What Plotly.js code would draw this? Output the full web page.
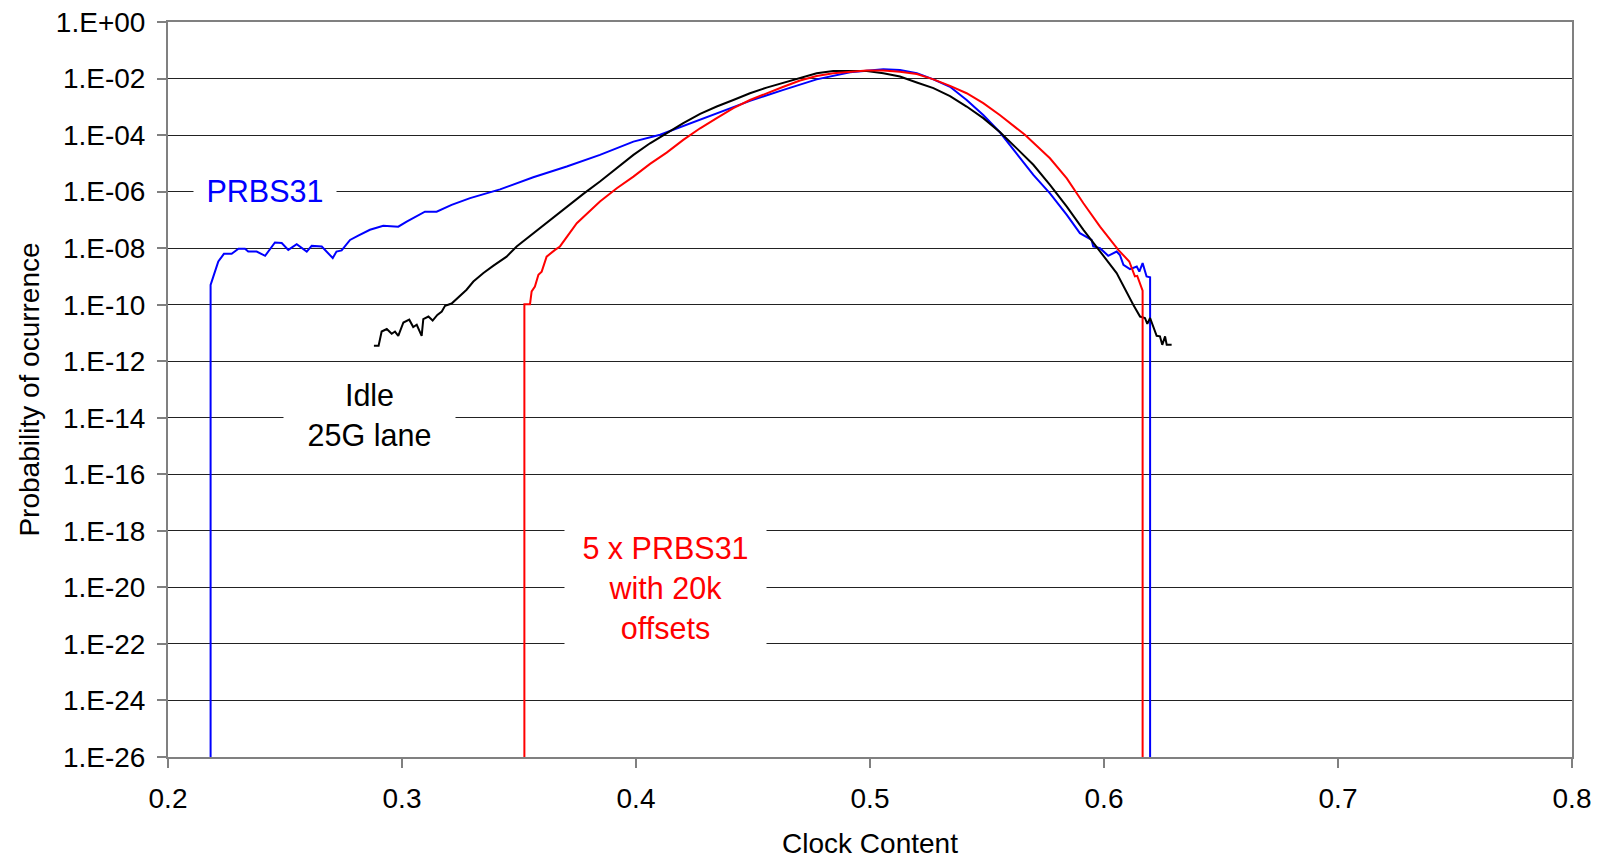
<!DOCTYPE html>
<html>
<head>
<meta charset="utf-8">
<script src="https://cdn.plot.ly/plotly-3.0.1.min.js"></script>
<style>html,body{margin:0;padding:0;background:#fff;}#chart{width:1604px;height:859px;}</style>
</head>
<body>
<div id="chart"></div>
<script>
// Clock content (x) and log10 of probability of occurrence (y)
const prbsX = [0.2182, 0.2182, 0.2194, 0.2215, 0.2239, 0.2272, 0.2301, 0.2329, 0.2343, 0.2379, 0.2415, 0.2457, 0.2486, 0.2514, 0.2550, 0.2593, 0.2614, 0.2657, 0.2704, 0.2720, 0.2742, 0.2778, 0.2813, 0.2863, 0.2920, 0.2984, 0.3020, 0.3098, 0.3148, 0.3212, 0.3291, 0.3419, 0.3561, 0.3704, 0.3846, 0.3989, 0.4103, 0.4202, 0.4345, 0.4487, 0.4630, 0.4772, 0.4915, 0.4986, 0.5057, 0.5128, 0.5200, 0.5271, 0.5342, 0.5413, 0.5484, 0.5556, 0.5627, 0.5698, 0.5769, 0.5841, 0.5897, 0.5947, 0.5954, 0.5983, 0.6018, 0.6054, 0.6068, 0.6083, 0.6111, 0.6140, 0.6151, 0.6165, 0.6182, 0.6197, 0.6197];
const prbsLog = [-26, -9.30, -9.0, -8.47, -8.2, -8.2, -8.02, -8.02, -8.12, -8.12, -8.27, -7.80, -7.82, -8.06, -7.86, -8.12, -7.92, -7.94, -8.35, -8.12, -8.08, -7.71, -7.56, -7.35, -7.21, -7.24, -7.06, -6.71, -6.71, -6.47, -6.23, -5.92, -5.49, -5.11, -4.70, -4.23, -3.99, -3.68, -3.25, -2.79, -2.40, -2.03, -1.78, -1.72, -1.67, -1.70, -1.81, -2.03, -2.29, -2.76, -3.29, -3.91, -4.64, -5.41, -6.06, -6.82, -7.47, -7.71, -7.94, -8.0, -8.27, -8.12, -8.24, -8.59, -8.74, -8.65, -8.83, -8.53, -9.0, -9.03, -26];

const idleX = [0.2880, 0.2900, 0.2913, 0.2935, 0.2956, 0.2970, 0.2984, 0.3006, 0.3031, 0.3048, 0.3063, 0.3084, 0.3091, 0.3113, 0.3131, 0.3151, 0.3170, 0.3184, 0.3212, 0.3276, 0.3305, 0.3348, 0.3391, 0.3447, 0.3490, 0.3561, 0.3632, 0.3704, 0.3775, 0.3846, 0.3918, 0.3989, 0.4060, 0.4131, 0.4202, 0.4274, 0.4345, 0.4416, 0.4487, 0.4558, 0.4630, 0.4701, 0.4772, 0.4843, 0.4915, 0.4986, 0.5057, 0.5128, 0.5200, 0.5271, 0.5342, 0.5413, 0.5484, 0.5556, 0.5627, 0.5698, 0.5769, 0.5841, 0.5912, 0.5983, 0.6054, 0.6125, 0.6154, 0.6175, 0.6185, 0.6197, 0.6211, 0.6225, 0.6239, 0.6249, 0.6261, 0.6268, 0.6289];
const idleLog = [-11.45, -11.45, -10.95, -10.86, -11.03, -10.95, -11.10, -10.63, -10.53, -10.79, -10.71, -11.10, -10.51, -10.42, -10.56, -10.36, -10.24, -10.04, -9.96, -9.47, -9.18, -8.88, -8.62, -8.30, -7.94, -7.47, -7.0, -6.53, -6.08, -5.64, -5.17, -4.70, -4.29, -3.93, -3.58, -3.25, -2.99, -2.76, -2.52, -2.32, -2.14, -1.96, -1.81, -1.73, -1.72, -1.73, -1.81, -1.93, -2.14, -2.34, -2.62, -2.99, -3.40, -3.90, -4.47, -5.05, -5.76, -6.53, -7.35, -8.12, -8.88, -10.0, -10.42, -10.47, -10.68, -10.47, -10.77, -11.10, -11.12, -11.42, -11.12, -11.42, -11.42];

const offsetX = [0.3523, 0.3523, 0.3547, 0.3554, 0.3568, 0.3583, 0.3597, 0.3618, 0.3654, 0.3675, 0.3747, 0.3846, 0.3918, 0.3989, 0.4060, 0.4131, 0.4202, 0.4274, 0.4345, 0.4416, 0.4487, 0.4558, 0.4630, 0.4701, 0.4772, 0.4843, 0.4915, 0.4986, 0.5057, 0.5128, 0.5200, 0.5271, 0.5342, 0.5413, 0.5484, 0.5556, 0.5662, 0.5769, 0.5841, 0.5912, 0.5983, 0.6061, 0.6108, 0.6118, 0.6132, 0.6142, 0.6165, 0.6165];
const offsetLog = [-26, -9.98, -9.98, -9.53, -9.36, -8.94, -8.83, -8.30, -8.06, -7.94, -7.12, -6.35, -5.88, -5.47, -5.02, -4.62, -4.17, -3.76, -3.40, -3.05, -2.76, -2.52, -2.29, -2.07, -1.91, -1.81, -1.76, -1.72, -1.72, -1.76, -1.84, -2.03, -2.26, -2.52, -2.87, -3.30, -3.99, -4.82, -5.53, -6.41, -7.24, -8.06, -8.47, -8.71, -9.0, -8.98, -9.50, -26];

const xTickVals = [0.2, 0.3, 0.4, 0.5, 0.6, 0.7, 0.8];
const xTickText = ['0.2', '0.3', '0.4', '0.5', '0.6', '0.7', '0.8'];
const yTickExp = [0, -2, -4, -6, -8, -10, -12, -14, -16, -18, -20, -22, -24, -26];
const yTickText = ['1.E+00', '1.E-02', '1.E-04', '1.E-06', '1.E-08', '1.E-10', '1.E-12', '1.E-14', '1.E-16', '1.E-18', '1.E-20', '1.E-22', '1.E-24', '1.E-26'];

const toProb = a => a.map(v => Math.pow(10, v));
const FONT = 'Liberation Sans, Arial, Helvetica, sans-serif';

const traces = [
  {x: prbsX, y: toProb(prbsLog), mode: 'lines', name: 'PRBS31', line: {color: '#0000FF', width: 2}},
  {x: idleX, y: toProb(idleLog), mode: 'lines', name: 'Idle 25G lane', line: {color: '#000000', width: 2}},
  {x: offsetX, y: toProb(offsetLog), mode: 'lines', name: '5 x PRBS31 with 20k offsets', line: {color: '#FF0000', width: 2}}
];

const layout = {
  width: 1604, height: 859,
  margin: {l: 168, r: 32, t: 22, b: 102},
  paper_bgcolor: '#fff', plot_bgcolor: '#fff',
  showlegend: false,
  font: {family: FONT, color: '#000', size: 28},
  xaxis: {
    range: [0.2, 0.8], tickmode: 'array', tickvals: xTickVals, ticktext: xTickText,
    showgrid: false, zeroline: false,
    showline: true, linecolor: '#808080', linewidth: 2, mirror: true,
    ticks: 'outside', ticklen: 9, tickwidth: 2, tickcolor: '#808080',
    tickfont: {family: FONT, size: 28, color: '#000'},
    ticklabelstandoff: 6,
    title: {text: 'Clock Content', font: {family: FONT, size: 28, color: '#000'}, standoff: 21}
  },
  yaxis: {
    type: 'log', range: [-26, 0], tickmode: 'array',
    tickvals: yTickExp.map(v => Math.pow(10, v)), ticktext: yTickText,
    showgrid: true, gridcolor: '#222222', gridwidth: 1, zeroline: false,
    showline: true, linecolor: '#808080', linewidth: 2, mirror: true,
    ticks: 'outside', ticklen: 9, tickwidth: 2, tickcolor: '#808080',
    tickfont: {family: FONT, size: 28, color: '#000'},
    ticklabelstandoff: 6,
    title: {text: 'Probability of ocurrence', font: {family: FONT, size: 28, color: '#000'}, standoff: 8}
  },
  annotations: [
    {xref: 'paper', yref: 'paper', x: 0.0691, y: 0.7694, xanchor: 'center', yanchor: 'middle',
     text: 'PRBS31', showarrow: false, bgcolor: '#fff', width: 142, height: 40, borderpad: 0,
     font: {family: FONT, size: 30.5, color: '#0000FF'}},
    {xref: 'paper', yref: 'paper', x: 0.1432, y: 0.4653, xanchor: 'center', yanchor: 'middle',
     text: 'Idle<br>25G lane', showarrow: false, bgcolor: '#fff', width: 171, height: 76, borderpad: 0,
     font: {family: FONT, size: 30.5, color: '#000'}},
    {xref: 'paper', yref: 'paper', x: 0.3547, y: 0.2299, xanchor: 'center', yanchor: 'middle',
     text: '5 x PRBS31<br>with 20k<br>offsets', showarrow: false, bgcolor: '#fff', width: 201, height: 128, borderpad: 0,
     font: {family: FONT, size: 30.5, color: '#FF0000'}}
  ]
};

Plotly.newPlot('chart', traces, layout, {staticPlot: true, displayModeBar: false});
</script>
</body>
</html>
